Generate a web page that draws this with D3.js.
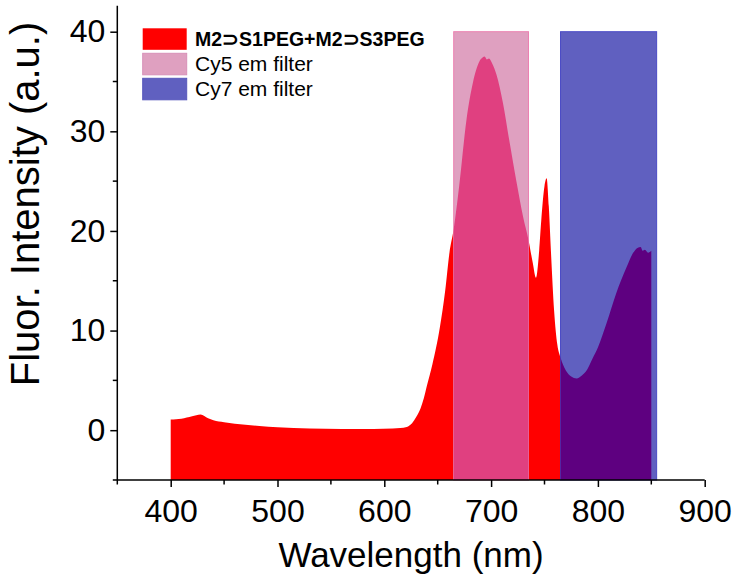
<!DOCTYPE html>
<html>
<head>
<meta charset="utf-8">
<script src="https://cdn.jsdelivr.net/npm/d3@7"></script>
<style>
  html, body { margin: 0; padding: 0; background: #fff; }
  svg { display: block; }
  text { font-family: "Liberation Sans", Arial, sans-serif; fill: #000; }
</style>
</head>
<body>
<svg id="chart" width="737" height="583"></svg>
<script>
// ---- data ----
const wavelength = [400, 405, 410, 420, 428, 435, 440, 450, 460, 470, 483, 500, 530, 560, 590, 608, 615, 621, 626, 630, 634, 637, 640, 645, 652, 657, 661, 665, 670, 677, 683, 689, 692, 694, 696, 698, 701, 705, 711, 717, 723.5, 730, 735, 739, 742, 745, 747, 750, 752, 754, 756, 759, 762, 765, 770, 775, 780, 785, 790, 795, 800, 808, 817, 827, 833, 837, 840, 842, 844, 847, 850];
const intensity  = [1.07, 1.1, 1.15, 1.4, 1.58, 1.2, 1.0, 0.8, 0.65, 0.55, 0.43, 0.3, 0.17, 0.13, 0.13, 0.17, 0.22, 0.33, 0.7, 1.34, 2.2, 3.2, 4.5, 6.6, 10.3, 14.0, 17.8, 20.2, 24.4, 31.2, 34.9, 37.0, 37.4, 37.5, 37.2, 37.3, 36.8, 35.7, 32.9, 29.1, 25.1, 21.4, 19.1, 16.8, 15.3, 18.0, 21.1, 24.5, 25.3, 22.5, 18.0, 12.0, 8.6, 7.3, 6.0, 5.4, 5.2, 5.5, 6.1, 7.2, 8.3, 10.7, 13.7, 16.4, 17.8, 18.3, 18.4, 18.0, 18.1, 17.8, 18.0];

const filterNames = ["Cy5 em filter", "Cy7 em filter"];
const filterStart = [665, 765];
const filterEnd   = [735, 855];
const filterTop   = 40;

const seriesName = "M2\u2283S1PEG+M2\u2283S3PEG";

const xTicks = [400, 500, 600, 700, 800, 900];
const xMinor = [350, 450, 550, 650, 750, 850];
const yTicks = [0, 10, 20, 30, 40];
const yMinor = [-5, 5, 15, 25, 35];

// ---- styles ----
const redColor = "#FF0000";
const filterFill = ["#DFA0C0", "#6060C0"];
const filterStroke = ["#EC80B0", "#4B4BC6"];
const overlapFill = ["#E04080", "#5E0080"];

// ---- layout ----
const svg = d3.select("#chart");
const x = d3.scaleLinear().domain([350, 900]).range([117.3, 704.7]);
const y = d3.scaleLinear().domain([-5, 40]).range([480, 31.7]);
const yTopVal = 42.6;

const data = wavelength.map((w, i) => ({ w, v: intensity[i] }));
const area = d3.area()
  .x(d => x(d.w))
  .y0(y(-5))
  .y1(d => y(d.v))
  .curve(d3.curveMonotoneX);

const defs = svg.append("defs");
filterNames.forEach((n, i) => {
  defs.append("clipPath").attr("id", "clip" + i)
    .append("rect")
    .attr("x", x(filterStart[i]))
    .attr("y", y(filterTop))
    .attr("width", x(filterEnd[i]) - x(filterStart[i]))
    .attr("height", y(-5) - y(filterTop));
});

// red spectrum
svg.append("path").datum(data).attr("d", area).attr("fill", redColor);

// filters (opaque) + overlap
filterNames.forEach((n, i) => {
  svg.append("rect")
    .attr("x", x(filterStart[i]))
    .attr("y", y(filterTop))
    .attr("width", x(filterEnd[i]) - x(filterStart[i]))
    .attr("height", y(-5) - y(filterTop))
    .attr("fill", filterFill[i])
    .attr("stroke", filterStroke[i])
    .attr("stroke-width", 1);
  svg.append("path").datum(data).attr("d", area)
    .attr("fill", overlapFill[i])
    .attr("clip-path", "url(#clip" + i + ")");
});

// axes
const axisColor = "#000";
svg.append("line")
  .attr("x1", x(350)).attr("x2", x(350))
  .attr("y1", y(yTopVal)).attr("y2", y(-5))
  .attr("stroke", axisColor).attr("stroke-width", 1.5);
svg.append("line")
  .attr("x1", x(350)).attr("x2", x(900))
  .attr("y1", y(-5)).attr("y2", y(-5))
  .attr("stroke", axisColor).attr("stroke-width", 1.5);

const xAxisG = svg.append("g").attr("transform", `translate(0,${y(-5)})`);
xAxisG.call(d3.axisBottom(x).tickValues(xTicks).tickSize(7).tickPadding(12).tickFormat(d3.format("d")))
  .call(g => g.select(".domain").remove());
xAxisG.selectAll(".tick line").attr("stroke-width", 1.5);
xAxisG.selectAll(".tick text").attr("font-size", 32).attr("font-family", "Liberation Sans, Arial, sans-serif").attr("fill", "#000");
xAxisG.selectAll(".minor").data(xMinor).enter().append("line")
  .attr("x1", d => x(d)).attr("x2", d => x(d)).attr("y1", 0).attr("y2", 4.5)
  .attr("stroke", axisColor).attr("stroke-width", 1.5);

const yAxisG = svg.append("g").attr("transform", `translate(${x(350)},0)`);
yAxisG.call(d3.axisLeft(y).tickValues(yTicks).tickSize(7).tickPadding(5).tickFormat(d3.format("d")))
  .call(g => g.select(".domain").remove());
yAxisG.selectAll(".tick line").attr("stroke-width", 1.5);
yAxisG.selectAll(".tick text").attr("font-size", 32).attr("font-family", "Liberation Sans, Arial, sans-serif").attr("fill", "#000");
yAxisG.selectAll(".minor").data(yMinor).enter().append("line")
  .attr("x1", 0).attr("x2", -4.5).attr("y1", d => y(d)).attr("y2", d => y(d))
  .attr("stroke", axisColor).attr("stroke-width", 1.5);

// axis titles
svg.append("text")
  .attr("x", (x(350) + x(900)) / 2).attr("y", 567)
  .attr("text-anchor", "middle").attr("font-size", 35)
  .text("Wavelength (nm)");
svg.append("text")
  .attr("transform", "translate(39,204) rotate(-90)")
  .attr("text-anchor", "middle").attr("font-size", 40)
  .text("Fluor. Intensity (a.u.)");

// legend
const legendItems = [
  { label: seriesName, fill: redColor, stroke: "none", bold: true },
  { label: filterNames[0], fill: filterFill[0], stroke: "#D890B8", bold: false },
  { label: filterNames[1], fill: filterFill[1], stroke: "#5858BC", bold: false }
];
const lg = svg.append("g");
legendItems.forEach((it, i) => {
  const yy = 28.3 + i * 25;
  lg.append("rect").attr("x", 142.7).attr("y", yy).attr("width", 44).attr("height", 21.5)
    .attr("fill", it.fill).attr("stroke", it.stroke).attr("stroke-width", 1);
  lg.append("text").attr("x", 195).attr("y", yy + 18)
    .attr("font-size", it.bold ? 19.5 : 21)
    .attr("font-weight", it.bold ? "bold" : "normal")
    .text(it.label);
});
</script>
</body>
</html>
